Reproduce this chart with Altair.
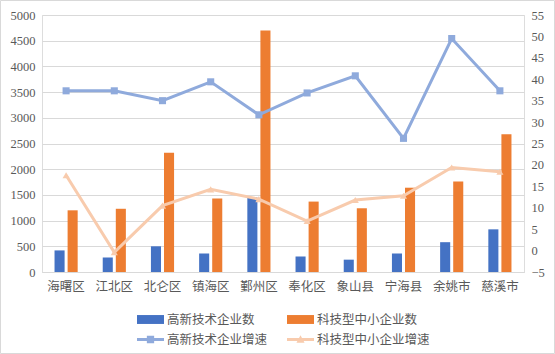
import altair as alt
import pandas as pd

categories = ["海曙区", "江北区", "北仑区", "镇海区", "鄞州区", "奉化区", "象山县", "宁海县", "余姚市", "慈溪市"]
hitech_count = [420, 280, 500, 360, 1450, 300, 240, 360, 580, 830]
sme_count = [1200, 1230, 2320, 1430, 4700, 1370, 1240, 1640, 1760, 2680]
hitech_growth = [37.3, 37.3, 35.0, 39.4, 31.7, 36.8, 40.8, 26.2, 49.5, 37.3]
sme_growth = [17.6, -0.4, 10.5, 14.3, 12.0, 6.9, 11.8, 12.8, 19.4, 18.4]

s_bar1, s_bar2 = "高新技术企业数", "科技型中小企业数"
s_line1, s_line2 = "高新技术企业增速", "科技型中小企业增速"
series_order = [s_bar1, s_bar2, s_line1, s_line2]
colors = ["#4472C4", "#ED7D31", "#8FAADC", "#F8CBAD"]

bars = pd.DataFrame(
    [{"cat": c, "series": s_bar1, "v": v} for c, v in zip(categories, hitech_count)]
    + [{"cat": c, "series": s_bar2, "v": v} for c, v in zip(categories, sme_count)]
)
lines = pd.DataFrame(
    [{"cat": c, "series": s_line1, "g": v} for c, v in zip(categories, hitech_growth)]
    + [{"cat": c, "series": s_line2, "g": v} for c, v in zip(categories, sme_growth)]
)

num_font = "'Liberation Serif', serif"
cjk_font = "Noto Sans CJK SC"
grey = "#595959"

rect_path = "M-1,-0.33H1V0.33H-1Z"
sq_path = "M-1,-0.11H1V0.11H-1Z M-0.27,-0.27H0.27V0.27H-0.27Z"
tri_path = "M-1,-0.11H1V0.11H-1Z M0,-0.32L0.3,0.24H-0.3Z"
shape_expr = (
    f"datum.value=='{s_line1}' ? '{sq_path}' : (datum.value=='{s_line2}' ? '{tri_path}' : '{rect_path}')"
)

color_scale = alt.Scale(domain=series_order, range=colors)
legend = alt.Legend(
    title=None,
    orient="none",
    legendX=95,
    legendY=291,
    direction="horizontal",
    columns=2,
    columnPadding=19,
    rowPadding=-1,
    padding=0,
    labelFont=cjk_font,
    labelFontSize=12.5,
    labelColor=grey,
    labelOffset=3,
    symbolSize=729,
    symbolType={"expr": shape_expr},
    symbolFillColor={"expr": "scale('color', datum.value)"},
    symbolStrokeWidth=0,
    symbolOpacity=1,
)

x_enc = alt.X(
    "cat:N",
    sort=categories,
    scale=alt.Scale(paddingInner=0.52, paddingOuter=0.26),
    axis=alt.Axis(
        title=None,
        labelAngle=0,
        labelFont=cjk_font,
        labelFontSize=12.5,
        labelColor=grey,
        labelPadding=8,
        ticks=False,
        domainColor="#d9d9d9",
        grid=False,
    ),
)

bar_layer = alt.Chart(bars).mark_bar().encode(
    x=x_enc,
    xOffset=alt.XOffset("series:N", sort=[s_bar1, s_bar2], scale=alt.Scale(paddingInner=0.23, paddingOuter=0)),
    y=alt.Y(
        "v:Q",
        scale=alt.Scale(domain=[0, 5000], nice=False),
        axis=alt.Axis(
            title=None,
            values=list(range(0, 5001, 500)),
            format="d",
            labelFont=num_font,
            labelFontSize=12.5,
            labelColor=grey,
            labelPadding=7,
            ticks=False,
            domain=False,
            gridColor="#d9d9d9",
        ),
    ),
    color=alt.Color("series:N", scale=color_scale, legend=legend),
)

y2_axis = alt.Axis(
    title=None,
    orient="right",
    values=list(range(-5, 56, 5)),
    format="d",
    labelFont=num_font,
    labelFontSize=12.5,
    labelColor=grey,
    labelPadding=7,
    ticks=False,
    domain=False,
    grid=False,
)
y2_scale = alt.Scale(domain=[-5, 55], nice=False)

line1 = alt.Chart(lines).transform_filter(alt.datum.series == s_line1).mark_line(
    strokeWidth=3,
    point=alt.OverlayMarkDef(shape="square", size=50, filled=True, opacity=1),
).encode(
    x=x_enc,
    y=alt.Y("g:Q", scale=y2_scale, axis=y2_axis),
    color=alt.Color("series:N", scale=color_scale, legend=legend),
)
line2 = alt.Chart(lines).transform_filter(alt.datum.series == s_line2).mark_line(
    strokeWidth=3,
    point=alt.OverlayMarkDef(shape="triangle-up", size=50, filled=True, opacity=1),
).encode(
    x=x_enc,
    y=alt.Y("g:Q", scale=y2_scale, axis=y2_axis),
    color=alt.Color("series:N", scale=color_scale, legend=legend),
)

frame = alt.Chart(pd.DataFrame({"k": [0]})).mark_rect(
    fill="transparent", stroke="#d9d9d9", strokeWidth=1
).encode(
    x=alt.value(-41.5), x2=alt.value(512.5), y=alt.value(-14.5), y2=alt.value(338.5)
)

chart = (
    alt.layer(bar_layer, alt.layer(line1, line2), frame)
    .resolve_scale(y="independent")
    .properties(
        width=482,
        height=257,
        autosize=alt.AutoSizeParams(type="none"),
        padding={"left": 42, "top": 15, "right": 31, "bottom": 82},
    )
    .configure_view(stroke=None)
    .configure(background="white")
)

chart.save("out.html", embed_options={"renderer": "svg", "actions": False})
